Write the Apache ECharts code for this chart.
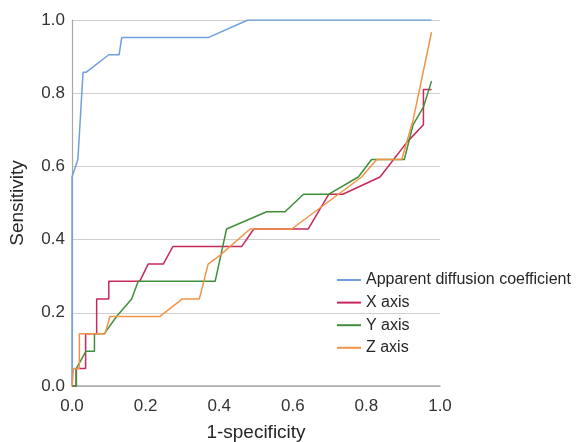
<!DOCTYPE html>
<html>
<head>
<meta charset="utf-8">
<script src="https://cdn.jsdelivr.net/npm/echarts@6/dist/echarts.min.js"></script>
<style>html,body{margin:0;padding:0;background:#fff}#c{width:579px;height:442px}</style>
</head>
<body>
<div id="c"></div>
<script>
var seriesNames = ['Apparent diffusion coefficient', 'X axis', 'Y axis', 'Z axis'];
var xTicks = [0, 0.2, 0.4, 0.6, 0.8, 1.0];
var adcPoints = [[0,0],[0,0.571],[0.016,0.619],[0.03,0.857],[0.038,0.857],[0.1,0.905],[0.128,0.905],[0.135,0.952],[0.37,0.952],[0.478,1.0],[0.977,1.0]];
var xAxisPoints = [[0,0],[0.011,0],[0.011,0.048],[0.037,0.048],[0.037,0.143],[0.067,0.143],[0.067,0.238],[0.1,0.238],[0.1,0.286],[0.184,0.286],[0.207,0.333],[0.248,0.333],[0.274,0.381],[0.461,0.381],[0.494,0.429],[0.642,0.429],[0.698,0.524],[0.736,0.524],[0.837,0.571],[0.911,0.667],[0.955,0.714],[0.955,0.81],[0.977,0.81]];
var yAxisPoints = [[0,0],[0.012,0],[0.012,0.048],[0.038,0.095],[0.061,0.095],[0.061,0.143],[0.088,0.143],[0.121,0.19],[0.162,0.238],[0.18,0.286],[0.389,0.286],[0.42,0.429],[0.529,0.476],[0.579,0.476],[0.629,0.524],[0.698,0.524],[0.778,0.571],[0.814,0.619],[0.903,0.619],[0.927,0.714],[0.955,0.762],[0.977,0.833]];
var zAxisPoints = [[0,0],[0.004,0],[0.004,0.048],[0.02,0.048],[0.02,0.143],[0.09,0.143],[0.103,0.19],[0.239,0.19],[0.3,0.238],[0.346,0.238],[0.37,0.333],[0.402,0.357],[0.484,0.429],[0.597,0.429],[0.787,0.571],[0.828,0.619],[0.896,0.619],[0.927,0.727],[0.977,0.967]];
var colors = ['#6fa0dc', '#c8285a', '#3f8f3a', '#f29445'];
var allData = [adcPoints, xAxisPoints, yAxisPoints, zAxisPoints];

var chart = echarts.init(document.getElementById('c'));
var font = 'Liberation Sans, Arial, Helvetica, sans-serif';
chart.setOption({
  animation: false,
  color: colors,
  textStyle: {fontFamily: font},
  grid: {left: 72, right: 139, top: 20, bottom: 56, outerBoundsMode: 'none', containLabel: false},
  legend: {
    orient: 'vertical', left: 337, top: 272, padding: 0,
    icon: 'rect', itemWidth: 24, itemHeight: 2, itemGap: 6.6,
    textStyle: {fontSize: 16, lineHeight: 16, color: '#262626', fontFamily: font},
    data: seriesNames
  },
  xAxis: {
    type: 'value', min: 0, max: 1, interval: 0.2,
    name: '1-specificity', nameLocation: 'middle', nameGap: 37,
    nameTextStyle: {fontSize: 19, color: '#262626'},
    axisLine: {show: true, lineStyle: {color: '#a8a8a8', width: 1.5}},
    axisTick: {show: false},
    axisLabel: {fontSize: 17, color: '#333', margin: 12, formatter: function(v){return v.toFixed(1);}},
    splitLine: {show: false}
  },
  yAxis: {
    type: 'value', min: 0, max: 1, interval: 0.2,
    name: 'Sensitivity', nameLocation: 'middle', nameGap: 45,
    nameTextStyle: {fontSize: 19, color: '#262626'},
    axisLine: {show: true, lineStyle: {color: '#a8a8a8', width: 1.2}},
    axisTick: {show: false},
    axisLabel: {fontSize: 17, color: '#333', margin: 7, formatter: function(v){return v.toFixed(1);}},
    splitLine: {show: true, lineStyle: {color: '#cfcfcf', width: 1.2}}
  },
  series: seriesNames.map(function(n, i){
    return {
      name: n, type: 'line', data: allData[i], symbol: 'none',
      lineStyle: {width: 1.5, color: colors[i]}, z: 2 + i
    };
  })
});
</script>
</body>
</html>
